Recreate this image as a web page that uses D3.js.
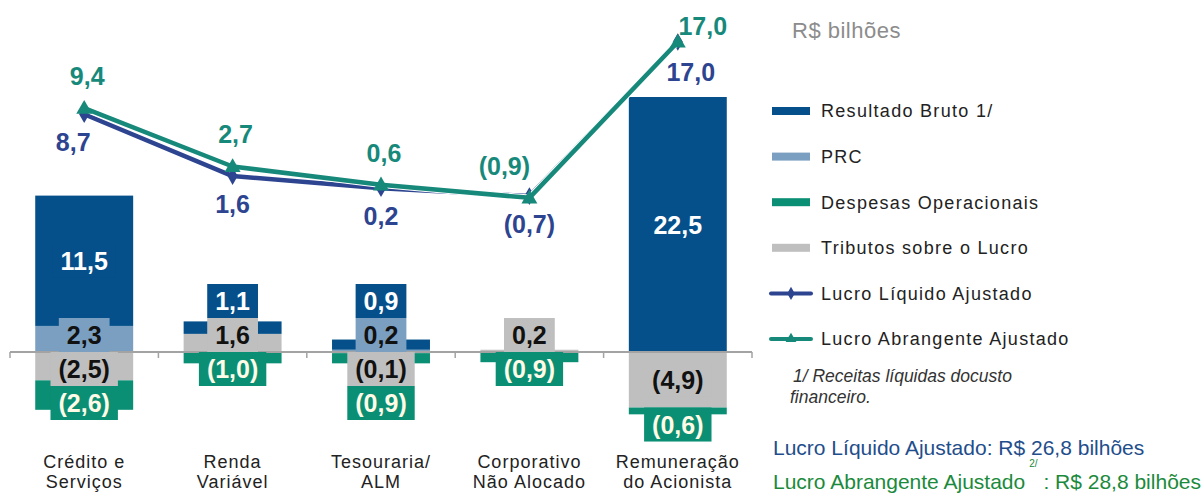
<!DOCTYPE html>
<html><head><meta charset="utf-8">
<script src="https://cdn.jsdelivr.net/npm/d3@7"></script>
<style>
html,body{margin:0;padding:0;background:#fff;}
svg{display:block;font-family:"Liberation Sans",Arial,sans-serif;}
</style></head>
<body><svg id="chart" width="1204" height="493"></svg>
<script>
// ---------- DATA ----------
const categories = ["Crédito e Serviços","Renda Variável","Tesouraria/ALM","Corporativo Não Alocado","Remuneração do Acionista"];
const categoryLine1 = ["Crédito e","Renda","Tesouraria/","Corporativo","Remuneração"];
const categoryLine2 = ["Serviços","Variável","ALM","Não Alocado","do Acionista"];
const resultadoBruto = [11.5, 1.1, 0.9, 0, 22.5];
const prc = [2.3, 0, 0.2, 0, 0];
const despesasOperacionais = [-2.6, -1.0, -0.9, -0.9, -0.6];
const tributosLucro = [-2.5, 1.6, -0.1, 0.2, -4.9];
const lucroLiquido = [8.7, 1.6, 0.2, -0.7, 17.0];
const lucroAbrangente = [9.4, 2.7, 0.6, -0.9, 17.0];
const seriesNames = ["Resultado Bruto 1/","PRC","Despesas Operacionais","Tributos sobre o Lucro","Lucro Líquido Ajustado","Lucro Abrangente Ajustado"];
const unitLabel = "R$ bilhões";
const footnote = ["1/ Receitas líquidas docusto","financeiro."];
const summaryLL = "Lucro Líquido Ajustado: R$ 26,8 bilhões";
const summaryLA = ["Lucro Abrangente Ajustado","2/",": R$ 28,8 bilhões"];

// ---------- STYLE ----------
const C = {bruto:"#05508a", prc:"#7b9fc1", despesas:"#0b8f74", tributos:"#bfbfbf", ll:"#2d4490", la:"#17897b"};
const textColor = {bruto:"#ffffff", prc:"#111111", tributos:"#111111", despesas:"#fffbe6"};

const svg = d3.select("#chart");
const fmt = v => { const s = Math.abs(v).toFixed(1).replace(".", ","); return v < 0 ? "(" + s + ")" : s; };

// ---------- SCALES ----------
const x = d3.scaleBand(categories, [10, 752]).paddingInner(0.34).paddingOuter(0.17);
const yBar = d3.scaleLinear().domain([0, 22.5]).range([352, 97]);
const yLine = d3.scaleLinear().domain([0, 17]).range([190, 42]);
const xc = c => x(c) + x.bandwidth() / 2;

// ---------- STACK ----------
const rows = categories.map((c, i) => ({cat: c, prc: prc[i], tributos: tributosLucro[i], despesas: despesasOperacionais[i], bruto: resultadoBruto[i]}));
const keys = ["prc", "tributos", "despesas", "bruto"];
const stacked = d3.stack().keys(keys).offset(d3.stackOffsetDiverging)(rows);

const gBars = svg.append("g");
stacked.forEach(s => {
  gBars.selectAll(null).data(s.filter(d => d.data[s.key] !== 0)).join("rect")
    .attr("x", d => x(d.data.cat)).attr("width", x.bandwidth())
    .attr("y", d => yBar(d[1])).attr("height", d => yBar(d[0]) - yBar(d[1]))
    .attr("fill", C[s.key]);
});

// axis
const gAxis = svg.append("g");
gAxis.append("line").attr("x1", x.range()[0]).attr("x2", x.range()[1])
  .attr("y1", yBar(0)).attr("y2", yBar(0)).attr("stroke", "#a3a3a3").attr("stroke-width", 2);
const boundaries = categories.map(c => x(c) - x.step() * x.paddingInner() / 2);
boundaries[0] = x.range()[0];
boundaries.push(x.range()[1]);
gAxis.selectAll(null).data(boundaries).join("line")
  .attr("x1", d => d).attr("x2", d => d).attr("y1", yBar(0)).attr("y2", yBar(0) + 6)
  .attr("stroke", "#a3a3a3").attr("stroke-width", 1.5);

// ---------- BAR LABELS ----------
const H = 34;
const gLab = svg.append("g");
const labelItems = [];
categories.forEach((c, i) => {
  let prevTop = yBar(0), prevBottom = yBar(0);
  ["prc", "tributos", "bruto"].forEach(k => {
    const s = stacked[keys.indexOf(k)][i];
    const v = rows[i][k];
    if (v > 0) {
      const top = yBar(s[1]), bot = yBar(s[0]), mid = (top + bot) / 2;
      const cy = Math.min(mid, Math.min(bot, prevTop) - H / 2);
      prevTop = cy - H / 2;
      labelItems.push({cat: c, key: k, v, cy});
    }
  });
  ["tributos", "despesas"].forEach(k => {
    const s = stacked[keys.indexOf(k)][i];
    const v = rows[i][k];
    if (v < 0) {
      const top = yBar(s[1]), bot = yBar(s[0]), mid = (top + bot) / 2;
      const cy = Math.max(mid, Math.max(top, prevBottom) + H / 2);
      prevBottom = cy + H / 2;
      labelItems.push({cat: c, key: k, v, cy});
    }
  });
});
const order = {bruto: 0, prc: 1, tributos: 2, despesas: 3};
labelItems.sort((a, b) => order[a.key] - order[b.key]);
labelItems.forEach(d => {
  const g = gLab.append("g");
  const r = g.append("rect");
  const t = g.append("text").attr("x", xc(d.cat)).attr("y", d.cy).attr("dy", "0.36em")
    .attr("text-anchor", "middle").attr("font-size", 25).attr("font-weight", "bold")
    .attr("fill", textColor[d.key]).text(fmt(d.v));
  const w = Math.min(t.node().getComputedTextLength() + 16, x.bandwidth());
  r.attr("x", xc(d.cat) - w / 2).attr("width", w).attr("y", d.cy - H / 2).attr("height", H).attr("fill", C[d.key]);
});

// category labels
const gCat = svg.append("g").attr("font-size", 18).attr("fill", "#222").attr("text-anchor", "middle").attr("letter-spacing", "1px");
categories.forEach((c, i) => {
  gCat.append("text").attr("x", xc(c)).attr("y", 468).text(categoryLine1[i]);
  gCat.append("text").attr("x", xc(c)).attr("y", 488).text(categoryLine2[i]);
});

// ---------- LINES ----------
const lineGen = vals => d3.line().x((d, i) => xc(categories[i])).y(d => yLine(d))(vals);
const gLines = svg.append("g");
gLines.append("path").attr("d", lineGen(lucroLiquido)).attr("fill", "none").attr("stroke", C.ll).attr("stroke-width", 4.5).attr("stroke-linejoin", "round");
gLines.selectAll(null).data(lucroLiquido).join("path")
  .attr("transform", (d, i) => `translate(${xc(categories[i])},${yLine(d)})`)
  .attr("d", d3.symbol(d3.symbolDiamond, 90)).attr("fill", C.ll);
gLines.append("path").attr("d", lineGen(lucroAbrangente)).attr("fill", "none").attr("stroke", "#fff").attr("stroke-width", 6.5).attr("stroke-linejoin", "round");
gLines.append("path").attr("d", lineGen(lucroAbrangente)).attr("fill", "none").attr("stroke", C.la).attr("stroke-width", 4.5).attr("stroke-linejoin", "round");
gLines.selectAll(null).data(lucroAbrangente).join("path")
  .attr("transform", (d, i) => `translate(${xc(categories[i])},${yLine(d) + 1})`)
  .attr("d", d3.symbol(d3.symbolTriangle, 110)).attr("fill", C.la);

// line labels (shifted away from steep segments)
const gLL = svg.append("g").attr("font-size", 25).attr("font-weight", "bold").attr("text-anchor", "middle");
lucroAbrangente.forEach((v, i) => {
  const prev = lucroAbrangente[i - 1], next = lucroAbrangente[i + 1];
  let dx = 3, dy = -32;
  if (next !== undefined && next - v > 5) dx = -25;
  if (prev !== undefined && v - prev > 5) { dx = 25; dy = -16; }
  gLL.append("text").attr("x", xc(categories[i]) + dx).attr("y", yLine(v) + dy).attr("dy", "0.36em")
    .attr("fill", C.la).text(fmt(v));
});
lucroLiquido.forEach((v, i) => {
  const prev = lucroLiquido[i - 1], next = lucroLiquido[i + 1];
  let dx = 0, dy = 28;
  if (next !== undefined && v - next > 5) dx = -11;
  if (prev !== undefined && v - prev > 5) { dx = 13; dy = 30; }
  gLL.append("text").attr("x", xc(categories[i]) + dx).attr("y", yLine(v) + dy).attr("dy", "0.36em")
    .attr("fill", C.ll).text(fmt(v));
});

// ---------- LEGEND ----------
svg.append("text").attr("x", 792).attr("y", 38).attr("font-size", 22).attr("letter-spacing", "0.5px")
  .attr("fill", "#8c8c8c").text(unitLabel);
const legColors = [C.bruto, C.prc, C.despesas, C.tributos, C.ll, C.la];
const gLeg = svg.append("g");
seriesNames.forEach((n, i) => {
  const cy = 111 + i * 45.6;
  if (i < 4) {
    gLeg.append("rect").attr("x", 772).attr("y", cy - 4).attr("width", 38).attr("height", 8).attr("fill", legColors[i]);
  } else {
    gLeg.append("line").attr("x1", 771).attr("x2", 811).attr("y1", cy).attr("y2", cy)
      .attr("stroke", legColors[i]).attr("stroke-width", 4).attr("stroke-linecap", "round");
    gLeg.append("path").attr("transform", `translate(791,${cy})`)
      .attr("d", d3.symbol(i === 4 ? d3.symbolDiamond : d3.symbolTriangle, 50)).attr("fill", legColors[i]);
  }
  gLeg.append("text").attr("x", 821).attr("y", cy).attr("dy", "0.36em").attr("font-size", 18)
    .attr("letter-spacing", "1.3px").attr("fill", "#222").text(n);
});

// footnote
const gFoot = svg.append("g").attr("font-size", 17.5).attr("font-style", "italic").attr("fill", "#333");
gFoot.append("text").attr("x", 793).attr("y", 382).text(footnote[0]);
gFoot.append("text").attr("x", 790).attr("y", 403).text(footnote[1]);

// summary
svg.append("text").attr("x", 773).attr("y", 455).attr("font-size", 21).attr("fill", "#1f4e8c").text(summaryLL);
const tLA = svg.append("text").attr("x", 773).attr("y", 489).attr("font-size", 21).attr("fill", "#1b8a3c");
tLA.append("tspan").text(summaryLA[0]);
tLA.append("tspan").attr("dx", 4).attr("dy", -22).attr("font-size", 10).text(summaryLA[1]);
tLA.append("tspan").attr("dy", 22).text(" " + summaryLA[2]);
</script>
</body></html>
